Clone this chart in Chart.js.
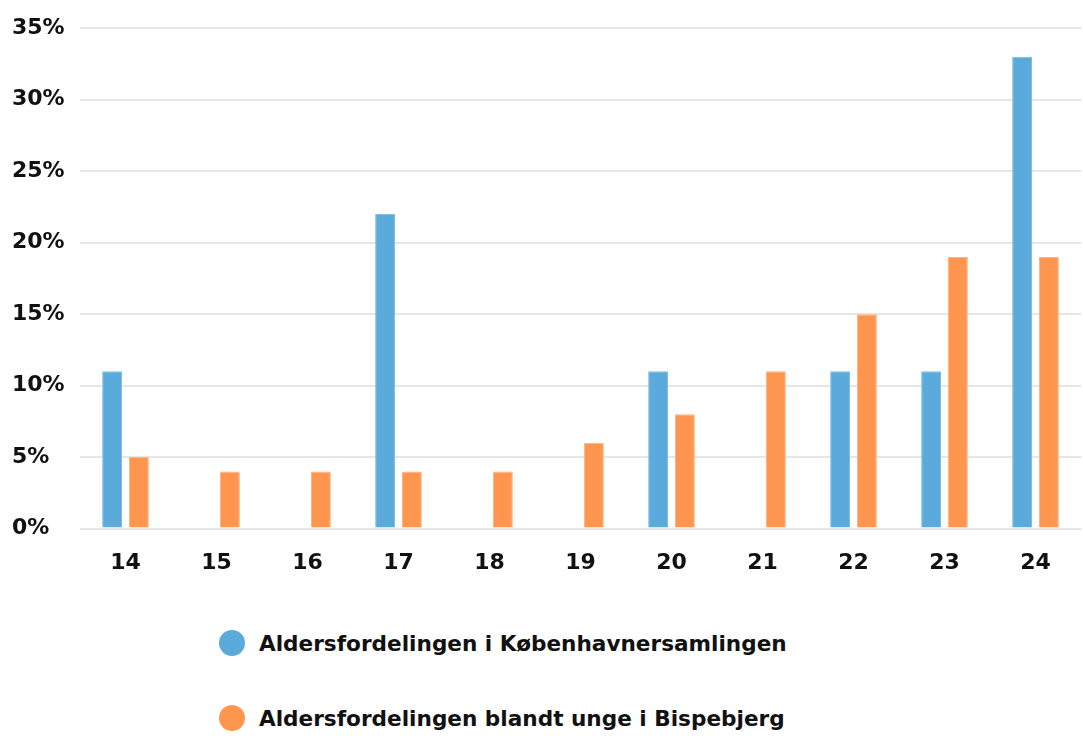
<!DOCTYPE html>
<html>
<head>
<meta charset="utf-8">
<script src="https://cdn.jsdelivr.net/npm/chart.js@4/dist/chart.umd.min.js"></script>
<style>
  body { margin: 0; background: #fff; font-family: "DejaVu Sans", sans-serif; }
  #wrap { position: relative; width: 1083px; height: 736px; }
  #legend { position: absolute; left: 219px; top: 624px; }
  .item { display: flex; align-items: center; height: 38px; margin-bottom: 37px; font-weight: 700; font-size: 21.6px; color: #111; }
  .dot { width: 26px; height: 26px; border-radius: 50%; margin-right: 14px; }
</style>
</head>
<body>
<div id="wrap">
  <canvas id="grafico" width="1083" height="615"></canvas>
  <div id="legend"></div>
</div>
<script>
var ages = ['14', '15', '16', '17', '18', '19', '20', '21', '22', '23', '24'];
var kobenhavn = [11, 0, 0, 22, 0, 0, 11, 0, 11, 11, 33];
var bispebjerg = [5, 4, 4, 4, 4, 6, 8, 11, 15, 19, 19];
var seriesNames = ['Aldersfordelingen i Københavnersamlingen', 'Aldersfordelingen blandt unge i Bispebjerg'];
var cores = ['#5aaadb', '#ff9650'];
var bordas = ['#7fbde6', '#ffb584'];

var fonte = { family: '"DejaVu Sans", sans-serif', size: 22, weight: '700' };

var ctx = document.getElementById('grafico').getContext('2d');
var myChart = new Chart(ctx, {
  type: 'bar',
  data: {
    labels: ages,
    datasets: [
      { label: seriesNames[0], data: kobenhavn, backgroundColor: cores[0], borderColor: bordas[0], borderWidth: 1, barPercentage: 0.74, categoryPercentage: 0.59 },
      { label: seriesNames[1], data: bispebjerg, backgroundColor: cores[1], borderColor: bordas[1], borderWidth: 1, barPercentage: 0.74, categoryPercentage: 0.59 }
    ]
  },
  options: {
    responsive: false,
    animation: false,
    layout: { padding: { top: 16, right: 2, left: 12, bottom: 26 } },
    plugins: { legend: { display: false }, tooltip: { enabled: false } },
    scales: {
      x: {
        grid: { display: false },
        border: { display: false },
        ticks: { color: '#111', font: fonte, padding: 13 }
      },
      y: {
        min: 0, max: 35,
        afterFit: function (axis) { axis.width = 68; },
        grid: { color: '#e6e6e6', lineWidth: 2, drawTicks: false },
        border: { display: false },
        ticks: {
          stepSize: 5, color: '#111', font: fonte, padding: 15, crossAlign: 'far',
          callback: function (v) { return v + '%'; }
        }
      }
    }
  }
});

// legenda empilhada
var html = '';
for (var i = 0; i < seriesNames.length; i++) {
  html += '<div class="item"><span class="dot" style="background:' + cores[i] + '"></span>' + seriesNames[i] + '</div>';
}
document.getElementById('legend').innerHTML = html;
</script>
</body>
</html>
